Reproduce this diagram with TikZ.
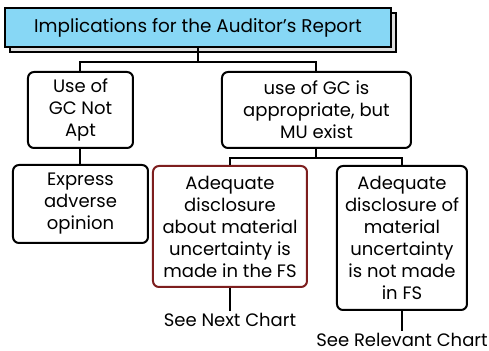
\documentclass[tikz,border=0pt]{standalone}
\usepackage{fontspec}
\setmainfont{Poppins}
\usetikzlibrary{shadows}

\begin{document}
\begin{tikzpicture}[
    x=0.5pt, y=-0.5pt,
    line width=1pt,
    box/.style={rectangle, draw, rounded corners=3pt, align=center, font=\fontsize{9}{11}\selectfont, inner sep=2pt},
    titlebox/.style={rectangle, draw, fill=titleblue, minimum width=193pt, minimum height=19.5pt, font=\fontsize{9.2}{11}\selectfont,
        copy shadow={shadow xshift=2.5pt, shadow yshift=-2.5pt, fill=gray!25, draw=black}},
    note/.style={font=\fontsize{9}{11}\selectfont, inner sep=0.5pt}
]
    \definecolor{titleblue}{RGB}{135,215,245}
    \definecolor{darkred}{RGB}{125,30,30}
    \useasboundingbox (0,0) rectangle (489,351);

    \node[titlebox] (title) at (198,27.5) {Implications for the Auditor's Report};
    \node[box, minimum width=52.5pt, minimum height=38pt] (gcnot) at (80.5,110) {Use of\\GC Not\\Apt};
    \node[box, minimum width=94.5pt, minimum height=38pt] (gcok) at (316.5,110) {use of GC is\\appropriate, but\\MU exist};
    \node[box, minimum width=67.5pt, minimum height=39pt] (adverse) at (80.5,204) {Express\\adverse\\opinion};
    \node[box, draw=darkred, minimum width=77pt, minimum height=60.5pt] (madein) at (230,226.5) {Adequate\\disclosure\\about material\\uncertainty is\\made in the FS};
    \node[box, minimum width=65pt, minimum height=72pt] (notmade) at (402,238) {Adequate\\disclosure of\\material\\uncertainty\\is not made\\in FS};
    \node[note] (seenext) at (230,320) {See Next Chart};
    \node[note] (seerel) at (402,340) {See Relevant Chart};

    \coordinate (top) at (198,62);
    \coordinate (mid) at (316.5,158);

    \draw (title.south) -- (top);
    \draw (gcnot.north) |- (top) -| (gcok.north);
    \draw (gcnot) -- (adverse);
    \draw (gcok.south) -- (mid);
    \draw (madein.north) |- (mid) -| (notmade.north);
    \draw (madein.south) -- (seenext.north);
    \draw (notmade.south) -- (seerel.north);
\end{tikzpicture}
\end{document}
